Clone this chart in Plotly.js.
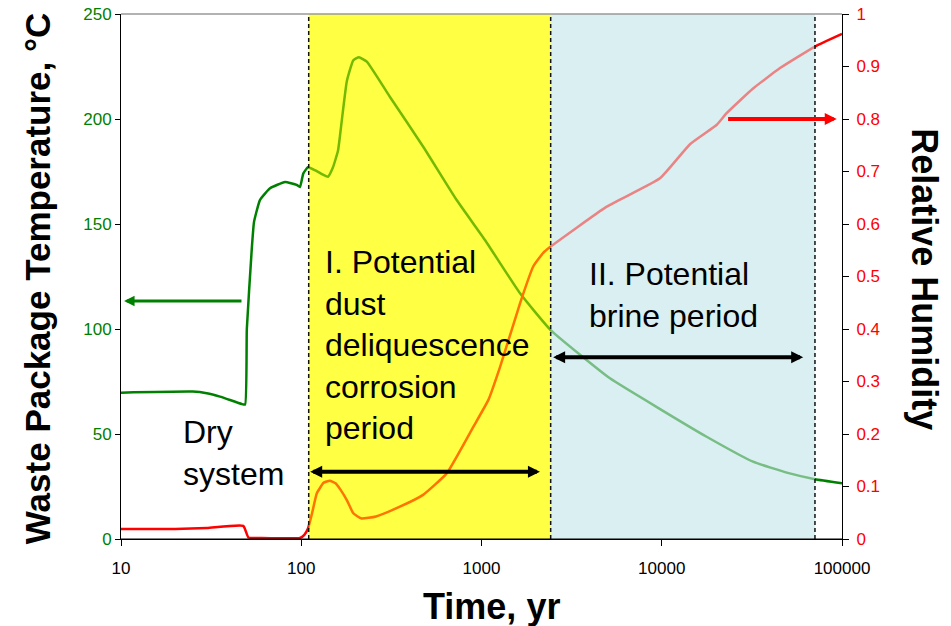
<!DOCTYPE html>
<html>
<head>
<meta charset="utf-8">
<script src="https://cdn.plot.ly/plotly-3.0.1.min.js"></script>
<style>html,body{margin:0;padding:0;background:#fff;}#chart{width:951px;height:626px;}</style>
</head>
<body>
<div id="chart"></div>
<script>
// ---- Data ----
const timeTemp = [10, 25, 29.9, 35.4, 46.7, 48.8, 49.9, 53.1, 54.7, 59, 67.1, 81.3, 94.3, 98.4, 102.6, 108.9, 120, 132, 140.7, 150, 160, 164, 179, 194.5, 209, 231, 310, 475, 728, 1045, 1636, 2420, 5160, 10000, 17740, 32100, 50000, 70800, 100000];
const temperature = [69.7, 70.2, 69.4, 67.8, 64.3, 64.0, 100, 137.6, 151, 161.4, 167, 170, 168.6, 167.6, 174, 177, 175.5, 173.5, 172.5, 177, 185, 192, 218, 228, 229.4, 227.3, 210.6, 186.8, 161.4, 142.4, 117, 99.5, 76.5, 61.4, 48.7, 36.8, 31.5, 28.5, 26.6];

const timeRH = [10, 20, 30, 47.7, 50.9, 60, 98.4, 104, 109, 115, 122, 133, 144, 155, 165, 179, 194.5, 216, 260, 350, 474, 641, 902, 1092, 1268, 1636, 1936, 2200, 2420, 4955, 9770, 14350, 20200, 22900, 32100, 45300, 70800, 100000];
const relHumidity = [0.019, 0.019, 0.021, 0.025, 0.003, 0.002, 0.002, 0.008, 0.02, 0.05, 0.087, 0.107, 0.111, 0.106, 0.094, 0.074, 0.049, 0.039, 0.043, 0.061, 0.084, 0.125, 0.214, 0.265, 0.328, 0.449, 0.519, 0.545, 0.557, 0.633, 0.687, 0.752, 0.789, 0.811, 0.858, 0.897, 0.938, 0.962];

const xTickVals = [10, 100, 1000, 10000, 100000];
const xTickText = ['10', '100', '1000', '10000', '100000'];
const yTickVals = [0, 50, 100, 150, 200, 250];
const y2TickVals = [0, 0.1, 0.2, 0.3, 0.4, 0.5, 0.6, 0.7, 0.8, 0.9, 1];
const y2TickText = ['0', '0.1', '0.2', '0.3', '0.4', '0.5', '0.6', '0.7', '0.8', '0.9', '1'];

// period boundaries (years)
const periodBounds = [110, 2420, 70800];
const periodLabels = ['I. Potential<br>dust<br>deliquescence<br>corrosion<br>period', 'II. Potential<br>brine period', 'Dry<br>system'];
const axisTitles = ['Time, yr', 'Waste Package Temperature, °C', 'Relative Humidity'];

const FONT = 'Liberation Sans, Arial, sans-serif';
const GREEN = '#008000';
const RED = '#FF0000';
const L = Math.log10;

const traces = [
  {x: timeTemp, y: temperature, type: 'scatter', mode: 'lines', line: {color: GREEN, width: 2.5, shape: 'spline', smoothing: 0.4}, yaxis: 'y', hoverinfo: 'skip'},
  {x: timeRH, y: relHumidity, type: 'scatter', mode: 'lines', line: {color: RED, width: 2.5, shape: 'spline', smoothing: 0.4}, yaxis: 'y2', hoverinfo: 'skip'}
];

const YEL_BG = '#FFFF7A', YEL = '#FFFF00';
const CY_BG = '#DCF0F2', CY = '#D8EEF1';

// shapes on the log axis take raw data values in this Plotly version
const shapes = [
  {type: 'rect', xref: 'x', yref: 'paper', x0: periodBounds[0], x1: periodBounds[1], y0: 0, y1: 1, fillcolor: YEL_BG, line: {width: 0}, layer: 'below'},
  {type: 'rect', xref: 'x', yref: 'paper', x0: periodBounds[1], x1: periodBounds[2], y0: 0, y1: 1, fillcolor: CY_BG, line: {width: 0}, layer: 'below'},
  {type: 'rect', xref: 'x', yref: 'paper', x0: periodBounds[0], x1: periodBounds[1], y0: 0, y1: 1, fillcolor: YEL, opacity: 0.45, line: {width: 0}, layer: 'above'},
  {type: 'rect', xref: 'x', yref: 'paper', x0: periodBounds[1], x1: periodBounds[2], y0: 0, y1: 1, fillcolor: CY, opacity: 0.55, line: {width: 0}, layer: 'above'}
];
periodBounds.forEach(b => shapes.push({type: 'line', xref: 'x', yref: 'paper', x0: b, x1: b, y0: 0, y1: 1, line: {color: '#111', width: 1.5, dash: '4px,3px'}, layer: 'above'}));
shapes.push({type: 'line', xref: 'paper', yref: 'paper', x0: 0, x1: 1, y0: 1, y1: 1, line: {color: '#999', width: 1.5}, layer: 'above'});
shapes.push({type: 'line', xref: 'paper', yref: 'paper', x0: 0, x1: 1, y0: 0, y1: 0, line: {color: '#000', width: 1}, layer: 'above'});

const txtFont = {family: FONT, size: 32, color: '#000'};
const titleFont = {family: FONT, size: 36, color: '#000', weight: 'bold'};
const annotations = [
  {xref: 'paper', yref: 'paper', x: 0.280, y: 0.566, xanchor: 'left', yanchor: 'top', align: 'left', text: periodLabels[0], showarrow: false, font: txtFont},
  {xref: 'paper', yref: 'paper', x: 0.646, y: 0.543, xanchor: 'left', yanchor: 'top', align: 'left', text: periodLabels[1], showarrow: false, font: txtFont},
  {xref: 'paper', yref: 'paper', x: 0.083, y: 0.242, xanchor: 'left', yanchor: 'top', align: 'left', text: periodLabels[2], showarrow: false, font: txtFont},
  // double arrows (annotation positions on a log axis are log10 values)
  {xref: 'x', yref: 'y', axref: 'x', ayref: 'y', x: L(2110), y: 32, ax: L(110), ay: 32, text: '', showarrow: true, arrowhead: 2, startarrowhead: 2, arrowside: 'end+start', arrowwidth: 4, arrowsize: 0.6, startarrowsize: 0.6, arrowcolor: '#000', standoff: 0, startstandoff: 0},
  {xref: 'x', yref: 'y', axref: 'x', ayref: 'y', x: L(60900), y: 86.5, ax: L(2450), ay: 86.5, text: '', showarrow: true, arrowhead: 2, startarrowhead: 2, arrowside: 'end+start', arrowwidth: 4, arrowsize: 0.6, startarrowsize: 0.6, arrowcolor: '#000', standoff: 0, startstandoff: 0},
  // green arrow -> left axis
  {xref: 'x', yref: 'y', axref: 'x', ayref: 'y', x: L(10.4), y: 113.3, ax: L(47.5), ay: 113.3, text: '', showarrow: true, arrowhead: 2, arrowwidth: 3, arrowsize: 0.7, arrowcolor: GREEN, standoff: 0},
  // red arrow -> right axis
  {xref: 'x', yref: 'y2', axref: 'x', ayref: 'y2', x: L(93500), y: 0.8, ax: L(22900), ay: 0.8, text: '', showarrow: true, arrowhead: 2, arrowwidth: 4, arrowsize: 0.6, arrowcolor: RED, standoff: 0},
  // axis titles
  {xref: 'paper', yref: 'paper', x: 0.514, y: -0.128, xanchor: 'center', yanchor: 'middle', text: axisTitles[0], showarrow: false, font: titleFont},
  {xref: 'paper', yref: 'paper', x: -0.1165, y: 0.495, xanchor: 'center', yanchor: 'middle', text: axisTitles[1], textangle: -90, showarrow: false, font: Object.assign({}, titleFont, {size: 35})},
  {xref: 'paper', yref: 'paper', x: 1.115, y: 0.495, xanchor: 'center', yanchor: 'middle', text: axisTitles[2], textangle: 90, showarrow: false, font: titleFont}
];

const layout = {
  width: 951, height: 626,
  margin: {l: 121, r: 109, t: 14, b: 87, pad: 0},
  paper_bgcolor: '#fff', plot_bgcolor: '#fff',
  showlegend: false,
  font: {family: FONT},
  xaxis: {
    type: 'log', range: [1, 5], tickvals: xTickVals, ticktext: xTickText,
    showgrid: false, zeroline: false, showline: true, linecolor: '#000', linewidth: 1,
    ticks: 'outside', ticklen: 6, tickcolor: '#000', tickfont: {family: FONT, size: 17, color: '#000'},
    ticklabelstandoff: 8
  },
  yaxis: {
    range: [0, 250], tickvals: yTickVals,
    showgrid: false, zeroline: false, showline: true, linecolor: '#000', linewidth: 1,
    ticks: 'outside', ticklen: 5, tickcolor: '#000', tickfont: {family: FONT, size: 17, color: GREEN}
  },
  yaxis2: {
    overlaying: 'y', side: 'right', range: [0, 1], tickvals: y2TickVals, ticktext: y2TickText,
    showgrid: false, zeroline: false, showline: true, linecolor: '#000', linewidth: 1,
    ticks: 'outside', ticklen: 6, tickcolor: '#000', tickfont: {family: FONT, size: 17, color: RED},
    ticklabelstandoff: 4
  },
  shapes: shapes,
  annotations: annotations
};

Plotly.newPlot('chart', traces, layout, {staticPlot: true, displayModeBar: false});
</script>
</body>
</html>
